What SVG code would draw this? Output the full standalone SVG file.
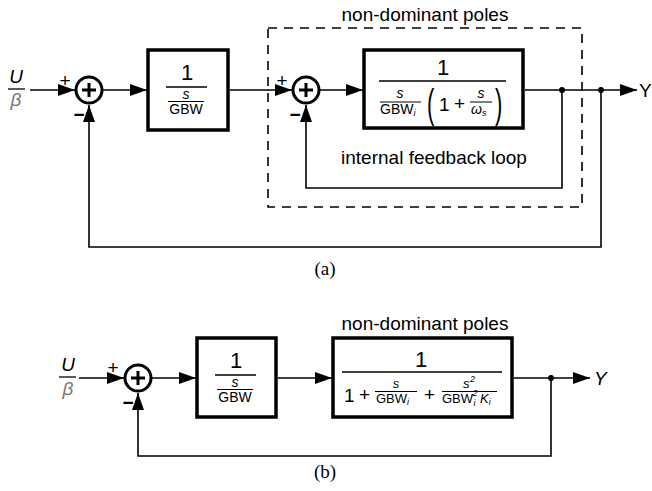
<svg xmlns="http://www.w3.org/2000/svg" width="652" height="491" viewBox="0 0 652 491">
<defs>
<marker id="ah" markerUnits="userSpaceOnUse" markerWidth="18" markerHeight="12" refX="17" refY="6" orient="auto">
<path d="M0,0 L17,6 L0,12 z" fill="#000"/>
</marker>
<style>
.ln{stroke:#000;stroke-width:1.6;fill:none}
.box{stroke:#000;stroke-width:3.5;fill:#fff}
.sum{stroke:#000;stroke-width:3;fill:#fff}
.pl{stroke:#000;stroke-width:3;fill:none}
.fr{stroke:#000;stroke-width:1.3}
.frs{stroke:#000;stroke-width:1}
.dash{stroke:#000;stroke-width:1.6;fill:none;stroke-dasharray:9,7}
text{font-family:"Liberation Sans",Arial,sans-serif;fill:#000}
.big{font-size:22px}
.mid{font-size:19px}
.sm{font-size:14px}
.smb{font-size:13px}
.sub{font-size:9px;font-style:italic}
.it{font-style:italic}
.lbl{font-size:19px}
.sign{font-size:19px}
.cap{font-family:"Liberation Serif","Times New Roman",serif;font-size:19px}
.gray{fill:#777}
</style>
</defs>

<!-- ===== (a) ===== -->
<g id="a-title"><text class="lbl" x="425" y="21" text-anchor="middle">non-dominant poles</text></g>
<g id="a-group"><rect class="dash" x="268" y="28" width="314" height="179"/></g>

<g id="a-input">
<text class="mid it" x="16" y="83" text-anchor="middle">U</text>
<line class="fr" x1="8" y1="89" x2="25" y2="89"/>
<text class="mid it gray" x="16" y="106" text-anchor="middle">β</text>
</g>

<g id="a-sum1">
<circle class="sum" cx="89" cy="90" r="13"/>
<path class="pl" d="M82,90 H96 M89,83 V97"/>
<text class="sign" x="65" y="87" text-anchor="middle">+</text>
<text class="sign" x="79" y="121" text-anchor="middle" font-weight="bold">−</text>
</g>

<g id="a-box1">
<rect class="box" x="148" y="50" width="80" height="80"/>
<text class="big" x="187" y="80" text-anchor="middle">1</text>
<line class="fr" x1="166" y1="87" x2="207" y2="87"/>
<text class="sm it" x="186" y="99" text-anchor="middle">s</text>
<line class="frs" x1="168" y1="101.5" x2="204" y2="101.5"/>
<text class="sm" x="186" y="114" text-anchor="middle">GBW</text>
</g>

<g id="a-sum2">
<circle class="sum" cx="306" cy="90" r="13"/>
<path class="pl" d="M299,90 H313 M306,83 V97"/>
<text class="sign" x="282" y="87" text-anchor="middle">+</text>
<text class="sign" x="295" y="121" text-anchor="middle" font-weight="bold">−</text>
</g>

<g id="a-box2">
<rect class="box" x="364" y="50" width="159" height="78"/>
<text class="big" x="443" y="75" text-anchor="middle">1</text>
<line class="fr" x1="379" y1="81" x2="506" y2="81"/>
<text class="sm it" x="400" y="98" text-anchor="middle">s</text>
<line class="frs" x1="380" y1="102" x2="421" y2="102"/>
<text class="sm" x="380" y="114">GBW<tspan class="sub" dy="2">i</tspan></text>
<text x="0" y="0" font-size="40" transform="translate(427,118) scale(0.55,1)">(</text>
<text class="mid" x="439" y="111">1</text>
<text class="mid" x="454" y="110">+</text>
<text class="sm it" x="481" y="98" text-anchor="middle">s</text>
<line class="frs" x1="470" y1="102" x2="492" y2="102"/>
<text class="sm it" x="471" y="114">ω<tspan class="sub" dy="2">s</tspan></text>
<text x="0" y="0" font-size="40" transform="translate(495,118) scale(0.55,1)">)</text>
</g>

<g id="a-loop-label"><text class="lbl" x="434" y="164" text-anchor="middle">internal feedback loop</text></g>
<g id="a-output"><text class="mid" x="639" y="97">Y</text></g>
<g id="a-caption"><text class="cap" x="325" y="275" text-anchor="middle">(a)</text></g>

<g id="a-connectors">
<line class="ln" x1="30" y1="90" x2="75" y2="90" marker-end="url(#ah)"/>
<line class="ln" x1="103" y1="90" x2="147" y2="90" marker-end="url(#ah)"/>
<line class="ln" x1="230" y1="90" x2="292" y2="90" marker-end="url(#ah)"/>
<line class="ln" x1="320" y1="90" x2="363" y2="90" marker-end="url(#ah)"/>
<line class="ln" x1="525" y1="90" x2="637" y2="90" marker-end="url(#ah)"/>
<polyline class="ln" points="562,90 562,188 306,188 306,105" marker-end="url(#ah)"/>
<polyline class="ln" points="601,90 601,247 89,247 89,105" marker-end="url(#ah)"/>
<circle cx="562" cy="90" r="3" fill="#000"/>
<circle cx="601" cy="90" r="3" fill="#000"/>
</g>

<!-- ===== (b) ===== -->
<g id="b-title"><text class="lbl" x="425" y="330" text-anchor="middle">non-dominant poles</text></g>

<g id="b-input">
<text class="mid it" x="68" y="371" text-anchor="middle">U</text>
<line class="fr" x1="59" y1="377" x2="76" y2="377"/>
<text class="mid it gray" x="68" y="395" text-anchor="middle">β</text>
</g>

<g id="b-sum">
<circle class="sum" cx="138" cy="378" r="13"/>
<path class="pl" d="M131,378 H145 M138,371 V385"/>
<text class="sign" x="113" y="374" text-anchor="middle">+</text>
<text class="sign" x="128" y="409" text-anchor="middle" font-weight="bold">−</text>
</g>

<g id="b-box1">
<rect class="box" x="197" y="338" width="79" height="79"/>
<text class="big" x="236" y="368" text-anchor="middle">1</text>
<line class="fr" x1="215" y1="375" x2="256" y2="375"/>
<text class="sm it" x="235" y="387" text-anchor="middle">s</text>
<line class="frs" x1="217" y1="389.5" x2="253" y2="389.5"/>
<text class="sm" x="235" y="402" text-anchor="middle">GBW</text>
</g>

<g id="b-box2">
<rect class="box" x="333" y="338" width="179" height="79"/>
<text class="big" x="421" y="367" text-anchor="middle">1</text>
<line class="fr" x1="342" y1="372" x2="502" y2="372"/>
<text class="mid" x="344" y="402">1</text>
<text class="mid" x="359" y="401">+</text>
<text class="smb it" x="396" y="388" text-anchor="middle">s</text>
<line class="frs" x1="375" y1="391.5" x2="417" y2="391.5"/>
<text class="smb" x="376" y="403">GBW<tspan class="sub" dy="2">i</tspan></text>
<text class="mid" x="424" y="401">+</text>
<text class="smb it" x="463" y="388">s</text>
<text class="sub" x="470" y="382" font-style="normal">2</text>
<line class="frs" x1="442" y1="391.5" x2="497" y2="391.5"/>
<text class="smb" x="442" y="403">GBW</text>
<text class="sub" x="472.5" y="396" font-style="normal">2</text>
<text class="sub" x="473.5" y="406">i</text>
<text class="smb it" x="480" y="403">K<tspan class="sub" dy="2">i</tspan></text>
</g>

<g id="b-output"><text class="mid it" x="594" y="385">Y</text></g>
<g id="b-caption"><text class="cap" x="325" y="478" text-anchor="middle">(b)</text></g>

<g id="b-connectors">
<line class="ln" x1="79" y1="378" x2="124" y2="378" marker-end="url(#ah)"/>
<line class="ln" x1="152" y1="378" x2="196" y2="378" marker-end="url(#ah)"/>
<line class="ln" x1="278" y1="378" x2="332" y2="378" marker-end="url(#ah)"/>
<line class="ln" x1="514" y1="378" x2="590" y2="378" marker-end="url(#ah)"/>
<polyline class="ln" points="551,378 551,456 138,456 138,393" marker-end="url(#ah)"/>
<circle cx="551" cy="378" r="3" fill="#000"/>
</g>
</svg>
